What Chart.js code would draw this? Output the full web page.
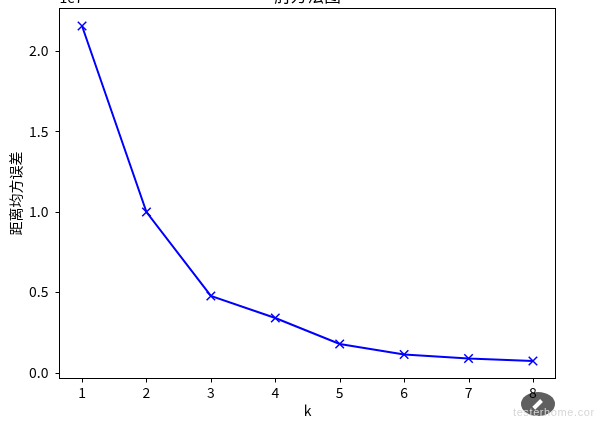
<!DOCTYPE html>
<html>
<head>
<meta charset="utf-8">
<script src="https://cdn.jsdelivr.net/npm/chart.js@4"></script>
<style>
  html, body { margin: 0; padding: 0; background: #fff; }
  #wrap { position: relative; width: 594px; height: 423px; overflow: hidden; }
  canvas { display: block; }
</style>
</head>
<body>
<div id="wrap"><canvas id="elbow" width="594" height="423"></canvas></div>
<script>
const kValues = [1, 2, 3, 4, 5, 6, 7, 8];
const sse = [21550000, 9980000, 4760000, 3390000, 1770000, 1120000, 870000, 715000];
const yTicks = [0, 5000000, 10000000, 15000000, 20000000];
const title = '肘方法图';
const xTitle = 'k';
const yTitle = '距离均方误差';
const offsetText = '1e7';
const watermark = 'testerhome.com';

const FONT = '"Noto Sans CJK SC", "Liberation Sans", sans-serif';
const BOX = { left: 59.5, right: 555.5, top: 8.5, bottom: 378.5 };
const LEFT_PAD = 7.6;

// watermark goes under the tick labels, the "8" sits on top of it
const badge = {
  id: 'badge',
  beforeDraw(chart) {
    const c = chart.ctx;
    c.save();
    c.fillStyle = '#5f5f5f';
    c.beginPath();
    c.ellipse(538, 404, 17, 12, 0, 0, Math.PI * 2);
    c.fill();
    c.fillStyle = '#fff';
    c.translate(538, 404);
    c.rotate(-Math.PI / 4);
    c.fillRect(-6, -2, 11, 4);
    c.restore();
    c.save();
    c.fillStyle = '#d6d6d6';
    c.font = '11px "Liberation Sans", sans-serif';
    c.textAlign = 'left';
    c.letterSpacing = '0.6px';
    c.fillText(watermark, 513, 416);
    c.restore();
  }
};

// matplotlib style frame, tick marks, title and offset text
const decorations = {
  id: 'decorations',
  afterDraw(chart) {
    const c = chart.ctx;
    const a = chart.chartArea;
    c.save();
    c.strokeStyle = '#000';
    c.lineWidth = 1;
    c.strokeRect(a.left, a.top, a.right - a.left, a.bottom - a.top);
    chart.scales.x.ticks.forEach(t => {
      const x = Math.round(chart.scales.x.getPixelForValue(t.value)) + 0.5;
      c.beginPath(); c.moveTo(x, a.bottom); c.lineTo(x, a.bottom + 4); c.stroke();
    });
    chart.scales.y.ticks.forEach(t => {
      const y = Math.round(chart.scales.y.getPixelForValue(t.value)) + 0.5;
      c.beginPath(); c.moveTo(a.left - 4, y); c.lineTo(a.left, y); c.stroke();
    });

    c.fillStyle = '#000';
    c.font = '16.7px ' + FONT;
    c.textAlign = 'center';
    c.textBaseline = 'alphabetic';
    c.fillText(title, (a.left + a.right) / 2, 2);
    c.font = '14px ' + FONT;
    c.textAlign = 'left';
    c.fillText(offsetText, a.left, 3);
    c.restore();
  }
};

new Chart(document.getElementById('elbow'), {
  type: 'line',
  data: {
    labels: kValues,
    datasets: [{
      data: kValues.map((k, i) => ({ x: k, y: sse[i] })),
      borderColor: '#0000ff',
      borderWidth: 2,
      pointStyle: 'crossRot',
      pointRadius: 6,
      pointBorderColor: '#0000ff',
      pointBorderWidth: 1.5,
      tension: 0
    }]
  },
  options: {
    responsive: false,
    animation: false,
    layout: {
      padding: { left: LEFT_PAD, right: 594 - BOX.right, top: BOX.top, bottom: 0 }
    },
    plugins: { legend: { display: false }, tooltip: { enabled: false } },
    scales: {
      x: {
        type: 'linear',
        min: 0.65,
        max: 8.35,
        grid: { display: false, drawTicks: false },
        border: { display: false },
        afterBuildTicks(axis) { axis.ticks = kValues.map(v => ({ value: v })); },
        afterFit(axis) {
          axis.height = 423 - BOX.bottom;
          axis.paddingLeft = 0;
          axis.paddingRight = 0;
        },
        ticks: {
          color: '#000',
          font: { family: FONT, size: 14 },
          padding: 6,
          maxRotation: 0,
          autoSkip: false
        },
        title: {
          display: true,
          text: xTitle,
          color: '#000',
          font: { family: FONT, size: 14 },
          padding: { top: 0, bottom: 3.6 }
        }
      },
      y: {
        min: -373000,
        max: 22640000,
        grid: { display: false, drawTicks: false },
        border: { display: false },
        afterBuildTicks(axis) { axis.ticks = yTicks.map(v => ({ value: v })); },
        afterFit(axis) {
          axis.width = BOX.left - LEFT_PAD;
          axis.paddingTop = 0;
          axis.paddingBottom = 0;
        },
        ticks: {
          color: '#000',
          font: { family: FONT, size: 14 },
          padding: 11,
          callback: v => (v / 1e7).toFixed(1)
        },
        title: {
          display: true,
          text: yTitle,
          color: '#000',
          font: { family: FONT, size: 14 },
          padding: { top: 0, bottom: 0 }
        }
      }
    }
  },
  plugins: [badge, decorations]
});
</script>
</body>
</html>
